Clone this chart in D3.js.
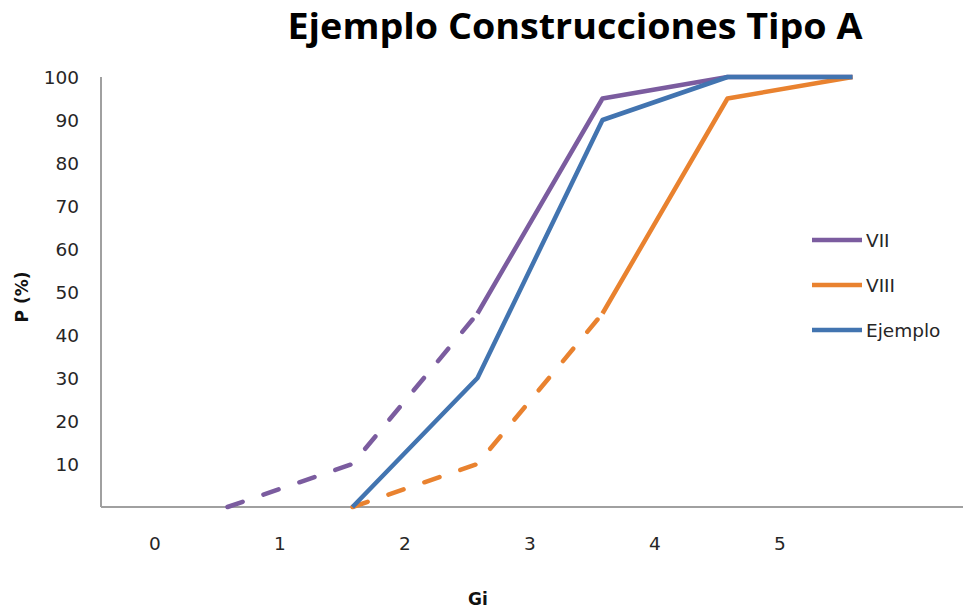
<!DOCTYPE html>
<html>
<head>
<meta charset="utf-8">
<script src="https://cdn.jsdelivr.net/npm/d3@7"></script>
<style>
  html, body { margin: 0; padding: 0; background: #fff; }
  svg { display: block; }
  text { font-family: "DejaVu Sans", sans-serif; }
</style>
</head>
<body>
<svg id="chart" width="963" height="610"></svg>
<script>
// ---- data ----
const giLabels = [0, 1, 2, 3, 4, 5];
const yTicks = [10, 20, 30, 40, 50, 60, 70, 80, 90, 100];
const gi = [0.58, 1.58, 2.58, 3.58, 4.58, 5.58];
const seriesNames = ["VII", "VIII", "Ejemplo"];
const vii = [0, 10, 45, 95, 100, 100];
const viii = [null, 0, 10, 45, 95, 100];
const ejemplo = [null, 0, 30, 90, 100, 100];
// index up to which each series is drawn dashed (-1 = none)
const dashedUntil = [2, 3, -1];
const colors = ["#7b5c9f", "#e9822f", "#4274b0"];

// ---- layout ----
const svg = d3.select("#chart");
const x = d3.scaleLinear().domain([0, 5]).range([155, 780]);
const y = d3.scaleLinear().domain([0, 100]).range([507, 77]);
const plotLeft = 101, plotRight = 963;

// title
svg.append("text")
  .attr("x", 575).attr("y", 39)
  .attr("text-anchor", "middle")
  .attr("font-size", 35).attr("font-weight", "bold")
  .attr("fill", "#000")
  .attr("textLength", 575).attr("lengthAdjust", "spacingAndGlyphs")
  .style("font-family", "'Open Sans', sans-serif")
  .text("Ejemplo Construcciones Tipo A");

// axes lines
svg.append("line")
  .attr("x1", plotLeft).attr("x2", plotLeft)
  .attr("y1", y(100)).attr("y2", y(0))
  .attr("stroke", "#a0a0a0").attr("stroke-width", 2);
svg.append("line")
  .attr("x1", plotLeft).attr("x2", plotRight)
  .attr("y1", y(0)).attr("y2", y(0))
  .attr("stroke", "#a0a0a0").attr("stroke-width", 2);

// y tick labels
svg.append("g").selectAll("text").data(yTicks).join("text")
  .attr("x", 79).attr("y", d => y(d))
  .attr("dy", "0.36em")
  .attr("text-anchor", "end")
  .attr("font-size", 18.5).attr("fill", "#262626")
  .text(d => d);

// x tick labels
svg.append("g").selectAll("text").data(giLabels).join("text")
  .attr("x", d => x(d)).attr("y", 550)
  .attr("text-anchor", "middle")
  .attr("font-size", 18.5).attr("fill", "#262626")
  .text(d => d);

// axis titles
svg.append("text")
  .attr("transform", "translate(28,297) rotate(-90)")
  .attr("text-anchor", "middle")
  .attr("font-size", 17).attr("font-weight", "bold").attr("fill", "#111")
  .text("P (%)");
svg.append("text")
  .attr("x", 478).attr("y", 605)
  .attr("text-anchor", "middle")
  .attr("font-size", 17).attr("font-weight", "bold").attr("fill", "#111")
  .text("Gi");

// series
const allSeries = [vii, viii, ejemplo];
const line = d3.line().x(d => x(d.x)).y(d => y(d.v));
allSeries.forEach((vals, si) => {
  const pts = vals.map((v, i) => ({ x: gi[i], v: v, i: i })).filter(p => p.v !== null);
  const dEnd = dashedUntil[si];
  const dashed = pts.filter(p => p.i <= dEnd);
  const solid = pts.filter(p => p.i >= dEnd);
  if (dashed.length > 1) {
    svg.append("path").datum(dashed)
      .attr("d", line).attr("fill", "none")
      .attr("stroke", colors[si]).attr("stroke-width", 4.5)
      .attr("stroke-dasharray", "16,22").attr("stroke-linecap", "round")
      .attr("stroke-linejoin", "round");
  }
  if (solid.length > 1) {
    svg.append("path").datum(solid)
      .attr("d", line).attr("fill", "none")
      .attr("stroke", colors[si]).attr("stroke-width", 4.5)
      .attr("stroke-linejoin", "round");
  }
});

// legend
const legend = svg.append("g");
seriesNames.forEach((name, i) => {
  const ly = 240 + i * 45;
  legend.append("line")
    .attr("x1", 812).attr("x2", 862).attr("y1", ly).attr("y2", ly)
    .attr("stroke", colors[i]).attr("stroke-width", 4.5);
  legend.append("text")
    .attr("x", 866).attr("y", ly).attr("dy", "0.36em")
    .attr("font-size", 18.5).attr("fill", "#262626")
    .text(name);
});
</script>
</body>
</html>
